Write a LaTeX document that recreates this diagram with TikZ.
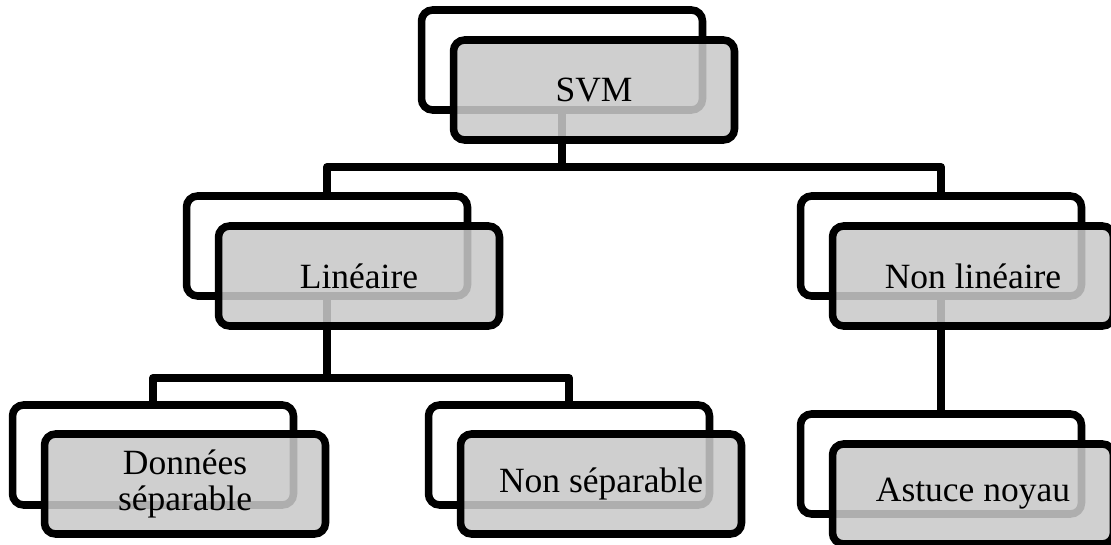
\documentclass[tikz,border=0pt]{standalone}
\usepackage{fontspec}
\setmainfont{Liberation Serif}
\definecolor{boxgray}{RGB}{201,201,201}
\begin{document}
\begin{tikzpicture}[x=0.02cm,y=-0.02cm,
  every node/.style={font=\fontsize{20.2}{20}\selectfont},
  backbox/.style={draw, line width=4.3pt, rounded corners=0.22cm, fill=white,
    minimum width=5.62cm, minimum height=2.0cm, inner sep=0pt},
  frontbox/.style={draw, line width=4.3pt, rounded corners=0.22cm, fill=boxgray,
    fill opacity=0.87, text opacity=1, align=center,
    minimum width=5.62cm, minimum height=2.0cm, inner sep=0pt},
  link/.style={line width=4.6pt, line join=round}]
\useasboundingbox (0,0) rectangle (1111,544);
\clip (0,0) rectangle (1111,544);

% back frames
\node[backbox] (svmb)   at (562,60)  {};
\node[backbox] (linb)   at (327,246) {};
\node[backbox] (nlinb)  at (941,246) {};
\node[backbox] (donb)   at (153,455) {};
\node[backbox] (nsepb)  at (569,455) {};
\node[backbox] (astb)   at (941,464) {};

% tree links
\coordinate (j1) at (562,167);
\coordinate (j2) at (327,378);
\draw[link] (svmb.south) -- (j1) -| (linb.north);
\draw[link] (j1) -| (nlinb.north);
\draw[link] (linb.south) -- (j2) -| (donb.north);
\draw[link] (j2) -| (nsepb.north);
\draw[link] (nlinb.south) -- (astb.north);

% front boxes
\node[frontbox] (svm)  at (594,90)  {SVM};
\node[frontbox] (lin)  at (359,276) {Linéaire};
\node[frontbox] (nlin) at (973,276) {Non linéaire};
\node[frontbox] (don)  at (185,484) {Données\\séparable};
\node[frontbox] (nsep) at (601,484) {Non séparable};
\node[frontbox] (ast)  at (973,494) {Astuce noyau};
\end{tikzpicture}
\end{document}
